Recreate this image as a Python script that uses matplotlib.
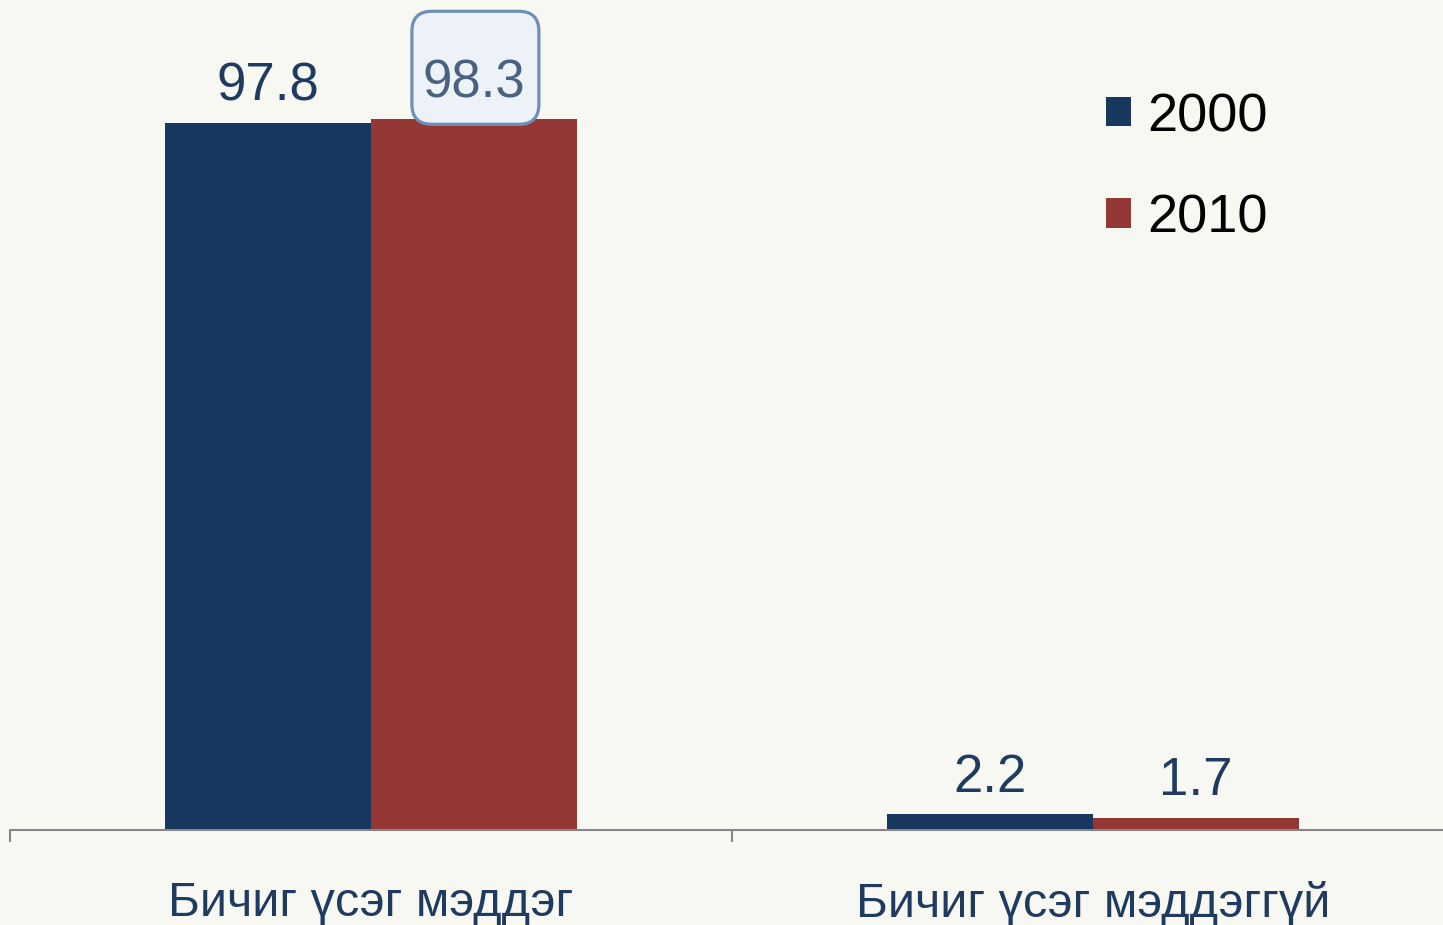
import numpy as np
import matplotlib
matplotlib.use("Agg")
import matplotlib.pyplot as plt
import matplotlib.transforms as mtransforms
from matplotlib.patches import FancyBboxPatch

plt.rcParams['font.family'] = ['Liberation Sans', 'DejaVu Sans']

categories = ['Бичиг үсэг мэддэг', 'Бичиг үсэг мэддэггүй']
years = ['2000', '2010']
vals_2000 = [97.8, 2.2]
vals_2010 = [98.3, 1.7]
colors = ['#17375e', '#953735']
label_color = '#1f3b60'
bg = '#f8f8f3'

fig = plt.figure(figsize=(14.43, 9.25), dpi=100, facecolor=bg)
ax = fig.add_axes([10 / 1443, 95 / 925, 1444 / 1443, 723 / 925])
ax.set_facecolor(bg)

x = np.arange(len(categories))
w = 0.285
b1 = ax.bar(x - w / 2, vals_2000, w, color=colors[0], label=years[0])
b2 = ax.bar(x + w / 2, vals_2010, w, color=colors[1], label=years[1])

ax.set_xlim(-0.5, 1.5)
ax.set_ylim(0, 100)

# value labels
for bars, vals in ((b1, vals_2000), (b2, vals_2010)):
    for rect, v in zip(bars, vals):
        cx = rect.get_x() + rect.get_width() / 2
        boxed = (v == 98.3)
        ax.annotate(f'{v}', (cx, v), xytext=(0, 16), textcoords='offset points',
                    ha='center', va='baseline', fontsize=38,
                    color='#4a6280' if boxed else label_color,
                    zorder=6, annotation_clip=False)
        if boxed:
            # highlighted label box (from the original slide)
            tr = fig.dpi_scale_trans + mtransforms.ScaledTranslation(cx, v, ax.transData)
            box = FancyBboxPatch((-0.62, -0.05), 1.27, 1.13,
                                 boxstyle='round,pad=0,rounding_size=0.2',
                                 transform=tr, facecolor='#edf1f8',
                                 edgecolor='#6f8fb8', linewidth=2.3,
                                 zorder=5, clip_on=False)
            ax.add_patch(box)

# axes styling
for s in ['top', 'right', 'left']:
    ax.spines[s].set_visible(False)
ax.spines['bottom'].set_color('#868686')
ax.spines['bottom'].set_linewidth(1.5)
ax.set_yticks([])
ax.set_xticks(x)
ax.set_xticklabels(categories, fontsize=35, color=label_color)
ax.tick_params(axis='x', which='major', length=0, pad=37)
ax.set_xticks([-0.5, 0.5, 1.5], minor=True)
ax.tick_params(axis='x', which='minor', length=8.6, width=1.5, color='#868686')

leg = ax.legend(loc='upper left', bbox_to_anchor=(1106 / 1443, 1 - 92 / 925),
                bbox_transform=fig.transFigure, frameon=False, fontsize=39,
                handlelength=0.46, handleheight=0.46, handletextpad=0.3,
                labelspacing=0.95, borderpad=0, borderaxespad=0)

fig.savefig('out.png', dpi=100, facecolor=bg)
